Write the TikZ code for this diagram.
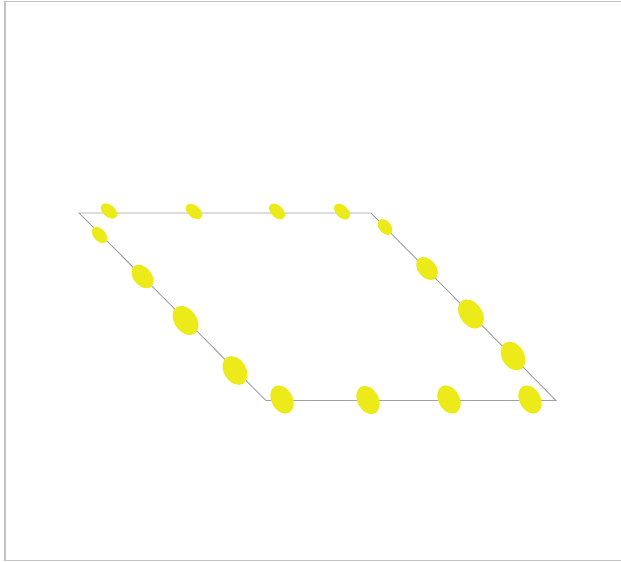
\documentclass[tikz,border=0pt]{standalone}
\usepackage{xcolor}
\usepackage{tikz}
\definecolor{dotyellow}{RGB}{236,234,24}
\definecolor{edgegray}{RGB}{160,160,160}
\definecolor{framegray}{RGB}{195,195,195}

\begin{document}
\begin{tikzpicture}[x=1pt,y=-1pt]
\useasboundingbox (0,0) rectangle (621,562);
\draw[framegray, line width=1.2pt] (621,1.5) -- (5,1.5) -- (5,560.5) -- (621,560.5);
\coordinate (tl) at (79,213);
\coordinate (tr) at (371,213);
\coordinate (br) at (556,400.5);
\coordinate (bl) at (266,400.5);
\draw[edgegray, line width=0.9pt] (tl) -- (tr) -- (br) -- (bl) -- cycle;
\foreach \x/\y/\a/\b/\r in {109/211/9.5/6/-40, 194/211.5/9.5/6/-40, 277/211.5/9.5/6/-45, 342/211.5/9.5/6/-45,
  385/227/9/6/-50, 427/268.5/13/9/-50, 471/314/16/11/-55, 513/356/15.5/11/-58,
  99.5/235/9.5/6/-50, 142.5/276.5/13.5/9/-50, 185.5/320.5/16/11/-55, 235/370.5/15.5/11/-58,
  282/399.5/15/10.5/-62, 368/400/15/10.5/-62, 449/399.5/15/10.5/-62, 530/399.5/15/10.5/-62}
  \fill[dotyellow, rotate around={\r:(\x,\y)}] (\x,\y) ellipse ({\a pt} and {\b pt});
\end{tikzpicture}
\end{document}
